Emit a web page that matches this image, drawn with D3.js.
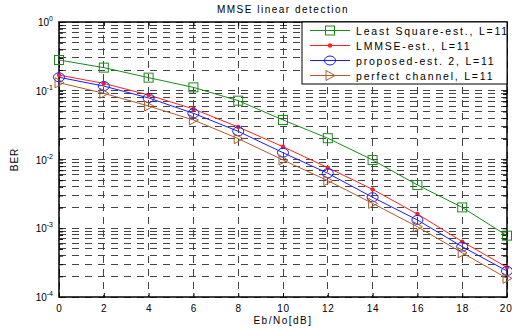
<!DOCTYPE html>
<html>
<head>
<meta charset="utf-8">
<script src="https://cdn.jsdelivr.net/npm/d3@7"></script>
<style>
body { margin: 0; background: #fff; }
text { font-family: "Liberation Sans", Arial, sans-serif; fill: #000; }
</style>
</head>
<body>
<svg width="512" height="330"></svg>
<script>
const snr = [0, 2, 4, 6, 8, 10, 12, 14, 16, 18, 20];
const berLS      = [0.28, 0.217, 0.155, 0.112, 0.0717, 0.0376, 0.0204, 0.00984, 0.00426, 0.00201, 0.00078];
const berLMMSE   = [0.169, 0.128, 0.0867, 0.0543, 0.0297, 0.01535, 0.0076, 0.00368, 0.00161, 0.00064, 0.00027];
const berProp    = [0.157, 0.117, 0.0785, 0.047, 0.0257, 0.01256, 0.0063, 0.00282, 0.00132, 0.00054, 0.000239];
const berPerfect = [0.131, 0.0918, 0.06, 0.0376, 0.0201, 0.00984, 0.00492, 0.0023, 0.00105, 0.00044, 0.000187];
const legendNames = ["Least Square-est., L=11", "LMMSE-est., L=11", "proposed-est. 2, L=11", "perfect channel, L=11"];
const xTicks = [0, 2, 4, 6, 8, 10, 12, 14, 16, 18, 20];
const yDecades = [0, -1, -2, -3, -4];

const margin = {top: 22, left: 59, right: 5, bottom: 33},
    width = 512 - margin.left - margin.right,
    height = 330 - margin.top - margin.bottom;

const svg = d3.select("svg");
const g = svg.append("g").attr("transform", "translate(" + margin.left + "," + margin.top + ")");

const x = d3.scaleLinear().domain([0, 20]).range([0, width]);
const y = d3.scaleLog().domain([1e-4, 1]).range([height, 0]);

// minor values for grid
const minor = [];
yDecades.slice(1).forEach(function(e) {
    for (let k = 1; k <= 9; k++) minor.push(k * Math.pow(10, e));
});
minor.push(1);

g.selectAll(".hgrid").data(minor).enter().append("line")
    .attr("x1", 0).attr("x2", width)
    .attr("y1", d => y(d)).attr("y2", d => y(d))
    .attr("stroke", "#444").attr("stroke-width", 1)
    .attr("stroke-dasharray", "7,6").attr("shape-rendering", "crispEdges");

g.selectAll(".vgrid").data(xTicks).enter().append("line")
    .attr("x1", d => x(d)).attr("x2", d => x(d))
    .attr("y1", 0).attr("y2", height)
    .attr("stroke", "#444").attr("stroke-width", 1)
    .attr("stroke-dasharray", "7,6").attr("shape-rendering", "crispEdges");

// axes with inward ticks
const yAxisL = d3.axisLeft(y).tickValues(minor).tickSize(-4).tickFormat("");
const yAxisR = d3.axisRight(y).tickValues(minor).tickSize(-4).tickFormat("");
const xAxisB = d3.axisBottom(x).tickValues(xTicks).tickSize(-4).tickPadding(8).tickFormat(d3.format("d"));
const xAxisT = d3.axisTop(x).tickValues(xTicks).tickSize(-4).tickFormat("");

g.append("g").call(yAxisL);
g.append("g").attr("transform", "translate(" + width + ",0)").call(yAxisR);
g.append("g").attr("transform", "translate(0," + height + ")").call(xAxisB)
    .selectAll("text").style("font-size", "10px").style("letter-spacing", "0.8px")
    .attr("text-anchor", d => d === 20 ? "end" : "middle")
    .attr("dx", d => d === 20 ? 5 : 0);
g.append("g").call(xAxisT);
g.selectAll(".domain").remove();
g.selectAll(".tick line").attr("stroke", "#000");

g.append("rect").attr("width", width).attr("height", height)
    .attr("fill", "none").attr("stroke", "#000").attr("stroke-width", 1.5);

// y decade labels
const ylab = g.selectAll(".ylab").data(yDecades).enter().append("text")
    .attr("x", -6).attr("y", d => y(Math.pow(10, d)) + 4)
    .attr("text-anchor", "end").style("font-size", "10px");
ylab.append("tspan").text("10");
ylab.append("tspan").attr("dy", -5).style("font-size", "7px").text(d => d);

const series = [
    {data: berLS, color: "#1a8c1a", marker: "square"},
    {data: berLMMSE, color: "#ff2020", marker: "dot"},
    {data: berProp, color: "#1a1aff", marker: "circle"},
    {data: berPerfect, color: "#b05a2a", marker: "tri"}
];

const line = d3.line().x((d, i) => x(snr[i])).y(d => y(d));

function drawMarker(sel, kind, color) {
    if (kind === "square") {
        sel.append("rect").attr("x", -4.5).attr("y", -4.5).attr("width", 9).attr("height", 9)
            .attr("fill", "none").attr("stroke", color);
    } else if (kind === "dot") {
        sel.append("circle").attr("r", 2.2).attr("fill", color);
    } else if (kind === "circle") {
        sel.append("ellipse").attr("rx", 5.5).attr("ry", 4.5).attr("fill", "none").attr("stroke", color);
    } else {
        sel.append("path").attr("d", "M-4,-5L5,0L-4,5Z").attr("fill", "none").attr("stroke", color);
    }
}

series.forEach(function(s) {
    g.append("path").datum(s.data).attr("d", line)
        .attr("fill", "none").attr("stroke", s.color).attr("stroke-width", 1);
    g.selectAll(null).data(s.data).enter().append("g")
        .attr("transform", (d, i) => "translate(" + x(snr[i]) + "," + y(d) + ")")
        .each(function() { drawMarker(d3.select(this), s.marker, s.color); });
});

// legend
const lg = svg.append("g").attr("transform", "translate(302,22)");
lg.append("rect").attr("width", 205).attr("height", 62).attr("fill", "#fff")
    .attr("stroke", "#000").attr("stroke-width", 1);
series.forEach(function(s, i) {
    const row = lg.append("g").attr("transform", "translate(0," + (8.5 + i * 15) + ")");
    row.append("line").attr("x1", 8).attr("x2", 48).attr("stroke", s.color).attr("stroke-width", 1);
    drawMarker(row.append("g").attr("transform", "translate(28,0)"), s.marker, s.color);
    row.append("text").attr("x", 54).attr("y", 4).style("font-size", "10.5px")
        .style("letter-spacing", "1.8px").text(legendNames[i]);
});

// titles
svg.append("text").attr("x", margin.left + width / 2).attr("y", 13)
    .attr("text-anchor", "middle").style("font-size", "10px").style("letter-spacing", "1.5px")
    .text("MMSE linear detection");
svg.append("text").attr("x", margin.left + width / 2).attr("y", 324)
    .attr("text-anchor", "middle").style("font-size", "10px").style("letter-spacing", "1.5px")
    .text("Eb/No[dB]");
svg.append("text").attr("transform", "translate(18," + (margin.top + height / 2) + ") rotate(-90)")
    .attr("text-anchor", "middle").style("font-size", "10px").style("letter-spacing", "1px")
    .text("BER");
</script>
</body>
</html>
